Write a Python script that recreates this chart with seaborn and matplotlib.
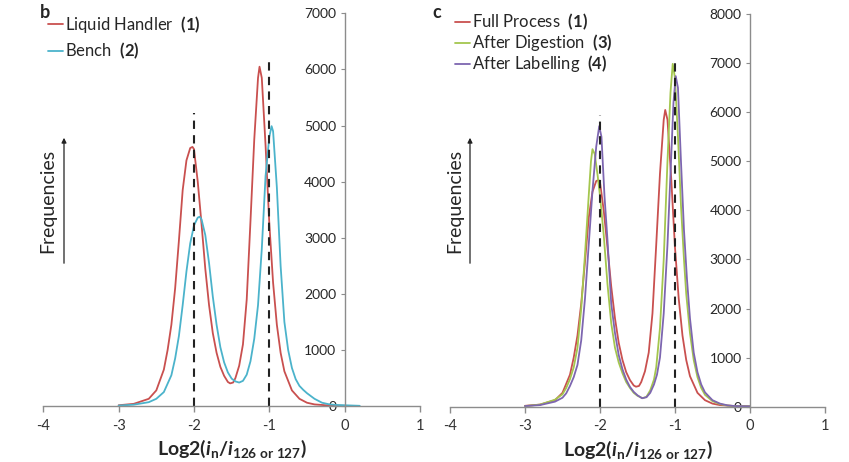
import matplotlib

matplotlib.use("Agg")
import matplotlib.pyplot as plt
import pandas as pd
import seaborn as sns

# --- data (x = Log2 ratio, y = frequency) ---
full_x = [-3.0, -2.8, -2.6, -2.5, -2.4, -2.35, -2.3, -2.25, -2.2, -2.15, -2.1, -2.05, -2.02, -2.0,
          -1.95, -1.9, -1.85, -1.8, -1.75, -1.7, -1.65, -1.6, -1.55, -1.52, -1.48, -1.45, -1.4,
          -1.35, -1.3, -1.25, -1.2, -1.15, -1.13, -1.1, -1.05, -1.0, -0.95, -0.9, -0.85, -0.8,
          -0.7, -0.6, -0.5, -0.4, -0.2, 0.0]
full_y = [15, 40, 130, 280, 650, 1000, 1450, 2100, 2950, 3850, 4380, 4600, 4620, 4580,
          4000, 3250, 2450, 1800, 1300, 950, 700, 540, 430, 405, 420, 500, 720,
          1100, 1900, 3300, 4750, 5850, 6050, 5850, 4650, 3250, 2200, 1450, 950, 620,
          280, 130, 60, 30, 10, 5]

bench_x = [-3.0, -2.8, -2.6, -2.5, -2.4, -2.3, -2.25, -2.2, -2.15, -2.1, -2.05, -2.0, -1.95,
           -1.925, -1.9, -1.85, -1.8, -1.75, -1.7, -1.65, -1.6, -1.55, -1.5, -1.45, -1.4, -1.35,
           -1.3, -1.25, -1.2, -1.15, -1.1, -1.05, -1.0, -0.97, -0.95, -0.9, -0.85, -0.8, -0.75,
           -0.7, -0.65, -0.6, -0.55, -0.5, -0.4, -0.3, -0.2, -0.1, 0.0, 0.1, 0.2]
bench_y = [10, 25, 70, 130, 250, 550, 850, 1250, 1800, 2400, 2900, 3220, 3360,
           3375, 3330, 3050, 2550, 1950, 1450, 1050, 780, 600, 490, 440, 420, 450,
           560, 800, 1200, 1800, 2800, 4100, 4800, 4990, 4900, 3900, 2500, 1500, 1000,
           680, 480, 360, 290, 230, 130, 60, 30, 20, 15, 10, 5]

digest_x = [-3.0, -2.8, -2.6, -2.5, -2.45, -2.4, -2.35, -2.3, -2.25, -2.2, -2.15, -2.12, -2.1,
            -2.07, -2.03, -2.0, -1.95, -1.9, -1.85, -1.8, -1.75, -1.7, -1.65, -1.6, -1.55, -1.5,
            -1.43, -1.38, -1.33, -1.28, -1.25, -1.2, -1.15, -1.1, -1.06, -1.03, -1.0, -0.96,
            -0.92, -0.88, -0.85, -0.8, -0.75, -0.7, -0.65, -0.6, -0.5, -0.4, -0.3, -0.2, 0.0]
digest_y = [10, 40, 140, 250, 380, 560, 800, 1200, 2000, 3100, 4300, 5000, 5250,
            5150, 4700, 4300, 3500, 2500, 1700, 1200, 900, 680, 500, 380, 280, 220,
            170, 200, 330, 550, 800, 1600, 3000, 5000, 6400, 6990, 6700, 5500,
            4100, 3000, 2300, 1500, 950, 600, 380, 240, 110, 50, 20, 10, 5]

label_x = [-3.0, -2.8, -2.6, -2.5, -2.45, -2.4, -2.35, -2.3, -2.25, -2.2, -2.15, -2.1, -2.05,
           -2.01, -1.98, -1.94, -1.9, -1.85, -1.8, -1.75, -1.7, -1.65, -1.6, -1.55, -1.5, -1.44,
           -1.38, -1.33, -1.28, -1.24, -1.2, -1.15, -1.1, -1.05, -1.02, -0.99, -0.96, -0.92,
           -0.88, -0.84, -0.8, -0.75, -0.7, -0.65, -0.6, -0.5, -0.4, -0.3, -0.2, 0.0]
label_y = [10, 30, 100, 180, 270, 420, 600, 850, 1350, 2200, 3300, 4400, 5300,
           5720, 5500, 4300, 3400, 2100, 1500, 1050, 760, 550, 400, 300, 230, 170,
           190, 280, 450, 650, 1000, 1900, 3300, 5100, 6200, 6740, 6500, 5000,
           3600, 2600, 1800, 1100, 700, 450, 290, 130, 60, 25, 10, 5]

guide_x = [-2, -1]
guide_top_b = [5230, 6150]
guide_top_c = [5950, 7000]

x_ticks = [-4, -3, -2, -1, 0, 1]
y_ticks_b = [0, 1000, 2000, 3000, 4000, 5000, 6000, 7000]
y_ticks_c = [0, 1000, 2000, 3000, 4000, 5000, 6000, 7000, 8000]

RED = "#C9504F"
CYAN = "#4BB3CB"
GREEN = "#A4C64E"
PURPLE = "#7D66B0"
GREY = "#8C8C8C"
FONT = "Lato"

sns.set_style("white")
plt.rcParams["font.family"] = [FONT, "DejaVu Sans"]
plt.rcParams["mathtext.fontset"] = "custom"
plt.rcParams["mathtext.rm"] = FONT
plt.rcParams["mathtext.bf"] = f"{FONT}:bold"
plt.rcParams["mathtext.it"] = f"{FONT}:italic:bold"

XLABEL = r"$\mathbf{Log2(}i_{\mathbf{n}}\mathbf{/}i_{\mathbf{126\ or\ 127}}\mathbf{)}$"


def series(x, y):
    return pd.DataFrame({"x": x, "y": y})


def style_axis(ax, ymax, y_ticks):
    ax.set_xlim(-4, 1)
    ax.set_ylim(0, ymax)
    ax.set_xticks(x_ticks)
    ax.set_xticklabels([str(t) for t in x_ticks], fontsize=10.5, color="#333333")
    ax.set_yticks(y_ticks)
    ax.set_yticklabels([str(t) for t in y_ticks], fontsize=5, color="#666666")
    ax.spines["left"].set_position(("data", 0))
    ax.spines["top"].set_visible(False)
    ax.spines["right"].set_visible(False)
    for side in ("left", "bottom"):
        ax.spines[side].set_color(GREY)
        ax.spines[side].set_linewidth(1.0)
    ax.tick_params(axis="x", direction="out", length=4, width=1, color=GREY, pad=5, bottom=True)
    ax.tick_params(axis="y", direction="out", length=3, width=0.8, color=GREY, pad=3, left=True)
    ax.set_xlabel(XLABEL, fontsize=14, labelpad=4)
    ax.set_ylabel("")


fig = plt.figure(figsize=(8.49, 4.62), dpi=100)
ax_b = fig.add_axes([0.051, 0.121, 0.4437, 0.850])
ax_c = fig.add_axes([0.530, 0.120, 0.4417, 0.849])

# panel b
sns.lineplot(data=series(full_x, full_y), x="x", y="y", ax=ax_b, color=RED, lw=1.3,
             sort=False, estimator=None, label=r"Liquid Handler  $\mathbf{(1)}$")
sns.lineplot(data=series(bench_x, bench_y), x="x", y="y", ax=ax_b, color=CYAN, lw=1.3,
             sort=False, estimator=None, label=r"Bench  $\mathbf{(2)}$")
ax_b.vlines(guide_x, 0, guide_top_b, colors="#222222", linestyles=(0, (4, 3)), lw=1.5)
style_axis(ax_b, 7000, y_ticks_b)

# panel c
sns.lineplot(data=series(full_x, full_y), x="x", y="y", ax=ax_c, color=RED, lw=1.3,
             sort=False, estimator=None, label=r"Full Process  $\mathbf{(1)}$")
sns.lineplot(data=series(digest_x, digest_y), x="x", y="y", ax=ax_c, color=GREEN, lw=1.3,
             sort=False, estimator=None, label=r"After Digestion  $\mathbf{(3)}$")
sns.lineplot(data=series(label_x, label_y), x="x", y="y", ax=ax_c, color=PURPLE, lw=1.3,
             sort=False, estimator=None, label=r"After Labelling  $\mathbf{(4)}$")
ax_c.vlines(guide_x, 0, guide_top_c, colors="#222222", linestyles=(0, (4, 3)), lw=1.5)
style_axis(ax_c, 8000, y_ticks_c)

for ax, anchor, spacing in ((ax_b, (48 / 849, 1 - 14 / 462), 0.35),
                            (ax_c, (455 / 849, 1 - 12 / 462), 0.0)):
    ax.legend(loc="upper left", bbox_to_anchor=anchor, bbox_transform=fig.transFigure,
              frameon=False, fontsize=12, handlelength=0.9, handletextpad=0.1,
              borderpad=0, borderaxespad=0, labelspacing=spacing)

# panel letters, "Frequencies" labels with arrows
fig.text(40 / 849, 1 - 12 / 462, "b", fontsize=13, fontweight="bold", va="center")
fig.text(432 / 849, 1 - 12 / 462, "c", fontsize=13, fontweight="bold", va="center")
for tx, ax_x in ((48, 64), (455, 470)):
    fig.text(tx / 849, 1 - 201 / 462, "Frequencies", rotation=90, fontsize=14,
             ha="center", va="center")
    fig.patches.append(matplotlib.patches.FancyArrowPatch(
        (ax_x / 849, 1 - 266 / 462), (ax_x / 849, 1 - 135 / 462),
        transform=fig.transFigure, arrowstyle="-|>", mutation_scale=7,
        lw=0.9, color="#222222"))

fig.savefig("out.png", dpi=100)
